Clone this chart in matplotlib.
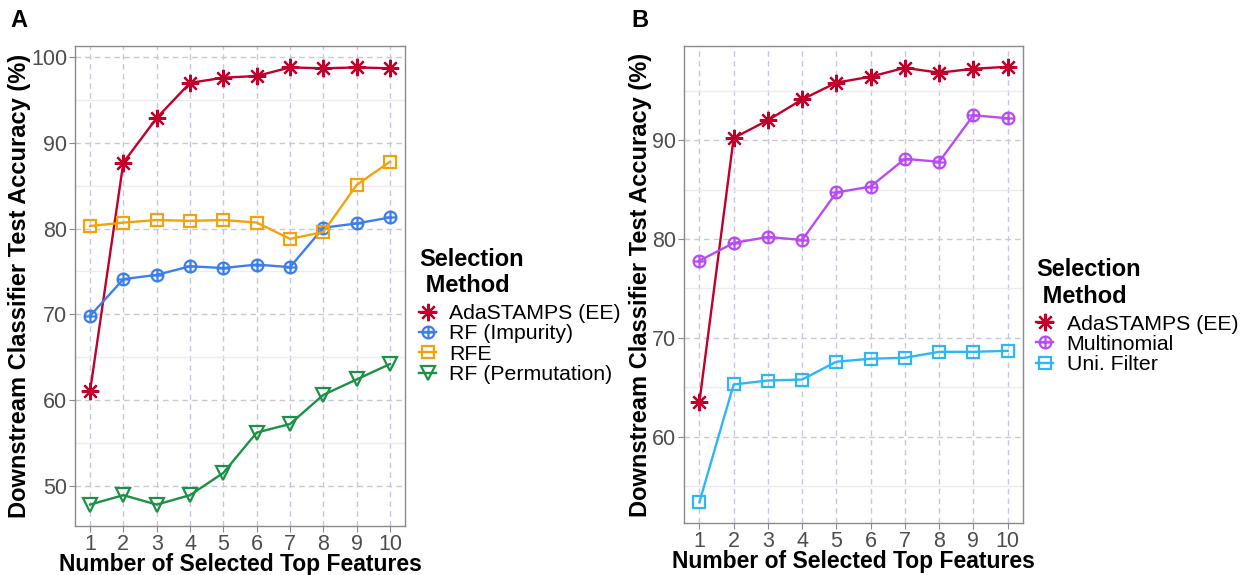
import matplotlib.pyplot as plt
import numpy as np
from matplotlib.path import Path
from matplotlib.ticker import MultipleLocator

plt.rcParams['font.family'] = ['Liberation Sans', 'DejaVu Sans']

n_features = list(range(1, 11))

# panel A
ada_a = [61.0, 87.7, 92.9, 97.0, 97.6, 97.8, 98.8, 98.7, 98.8, 98.7]
rf_impurity = [69.8, 74.1, 74.6, 75.6, 75.4, 75.8, 75.5, 80.1, 80.6, 81.3]
rfe = [80.3, 80.7, 81.0, 80.9, 81.0, 80.7, 78.8, 79.6, 85.1, 87.8]
rf_perm = [47.8, 48.9, 47.8, 48.9, 51.5, 56.2, 57.2, 60.6, 62.4, 64.2]

# panel B
ada_b = [63.5, 90.2, 92.0, 94.1, 95.8, 96.4, 97.3, 96.8, 97.2, 97.4]
multinomial = [77.8, 79.6, 80.2, 79.9, 84.7, 85.3, 88.1, 87.8, 92.5, 92.2]
uni_filter = [53.4, 65.3, 65.7, 65.8, 67.6, 67.9, 68.0, 68.6, 68.6, 68.7]

# R style markers: pch 8 (asterisk), pch 10 (circle plus)
asterisk = (8, 2, 0)
circ_plus = Path.make_compound_path(
    Path.unit_circle(),
    Path([[-1, 0], [1, 0]]),
    Path([[0, -1], [0, 1]]),
)

RED = '#C0002A'
BLUE = '#3D7EEE'
ORANGE = '#F4A20C'
GREEN = '#1C9146'
PURPLE = '#B84CF4'
CYAN = '#2DB8F5'


def draw_panel(ax, series, ylim, yticks):
    handles = []
    for label, vals, color, marker, ms in series:
        h, = ax.plot(n_features, vals, color=color, lw=1.7, marker=marker,
                     ms=ms, mfc='none', mec=color, mew=1.6, label=label,
                     zorder=3)
        handles.append(h)
    ax.set_xlim(0.55, 10.45)
    ax.set_ylim(*ylim)
    ax.set_xticks(n_features)
    ax.set_yticks(yticks)
    ax.yaxis.set_minor_locator(MultipleLocator(5))
    ax.grid(True, which='major', ls=(0, (4, 3)), color='#C8C8DC', lw=1.0)
    ax.grid(True, which='minor', axis='y', ls='-', color='#EBEBF0', lw=1.0)
    ax.set_axisbelow(True)
    for s in ax.spines.values():
        s.set_color('#8A8A8A')
        s.set_linewidth(1.0)
    ax.tick_params(which='major', labelsize=15.5, labelcolor='#4D4D4D',
                   color='#8A8A8A', length=4, width=0.8, pad=1.5)
    ax.tick_params(which='minor', length=0)
    ax.set_xlabel('Number of Selected Top Features', fontsize=16.5,
                  fontweight='bold', labelpad=-1.5)
    ax.set_ylabel('Downstream Classifier Test Accuracy (%)', fontsize=17,
                  fontweight='bold', labelpad=0.5)
    return handles


fig = plt.figure(figsize=(12.42, 5.75), dpi=100)

ax_a = fig.add_axes([0.0604, 0.0852, 0.2657, 0.8348])
ax_b = fig.add_axes([0.5507, 0.0904, 0.2730, 0.8296])

series_a = [
    ('AdaSTAMPS (EE)', ada_a, RED, asterisk, 12.5),
    ('RF (Impurity)', rf_impurity, BLUE, circ_plus, 8.5),
    ('RFE', rfe, ORANGE, 's', 8),
    ('RF (Permutation)', rf_perm, GREEN, 'v', 9.5),
]
series_b = [
    ('AdaSTAMPS (EE)', ada_b, RED, asterisk, 12.5),
    ('Multinomial', multinomial, PURPLE, circ_plus, 8.5),
    ('Uni. Filter', uni_filter, CYAN, 's', 8),
]

h_a = draw_panel(ax_a, series_a, (45.3, 101.3), [50, 60, 70, 80, 90, 100])
h_b = draw_panel(ax_b, series_b, (51.3, 99.5), [60, 70, 80, 90])

for handles, x, y in [(h_a, 0.3375, 0.5693), (h_b, 0.8345, 0.5513)]:
    leg = fig.legend(handles=handles, loc='upper left', bbox_to_anchor=(x, y),
                     frameon=False, title='Selection\n Method',
                     fontsize=15.3, handlelength=0.8, handletextpad=0.62,
                     labelspacing=0.06, borderpad=0, borderaxespad=0)
    leg.get_title().set_fontsize(17)
    leg.get_title().set_fontweight('bold')
    leg._legend_box.align = 'left'
    leg._legend_box.sep = 5

fig.text(0.008, 0.985, 'A', fontsize=17, fontweight='bold', va='top')
fig.text(0.508, 0.985, 'B', fontsize=17, fontweight='bold', va='top')

fig.savefig('out.png', dpi=100)
